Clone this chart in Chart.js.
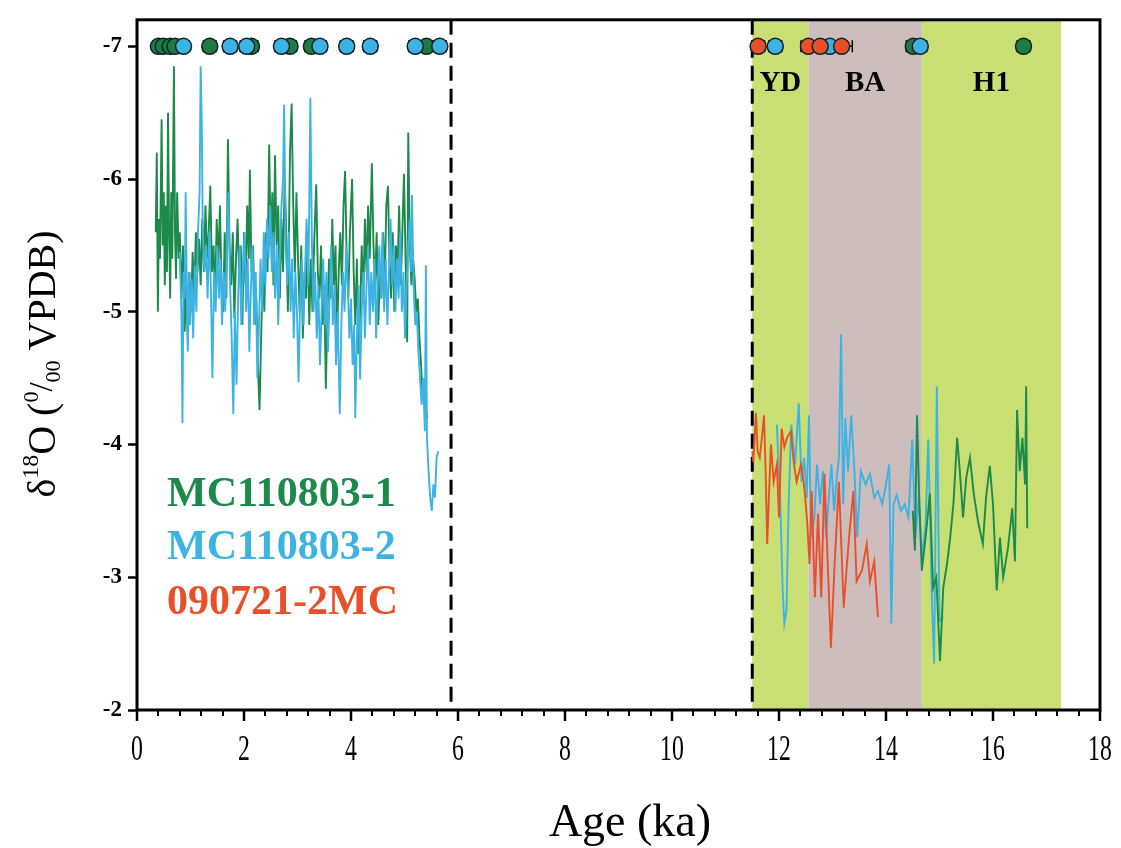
<!DOCTYPE html>
<html>
<head>
<meta charset="utf-8">
<title>d18O records</title>
<script src="https://cdn.jsdelivr.net/npm/chart.js@4.4.0/dist/chart.umd.min.js"></script>
<style>
  html, body { margin: 0; padding: 0; background: #fff; }
  canvas { display: block; }
</style>
</head>
<body>
<canvas id="d18oChart" width="1121" height="848"></canvas>
<script>
// MC110803-1, Holocene part
const mc1HoloAge = [0.35,0.37,0.39,0.41,0.43,0.46,0.48,0.50,0.52,0.54,0.56,0.58,0.60,0.62,0.64,0.66,0.69,0.71,0.73,0.75,0.78,0.80,0.83,0.86,0.89,0.92,0.95,0.98,1.01,1.04,1.07,1.10,1.13,1.16,1.19,1.22,1.25,1.28,1.31,1.34,1.37,1.40,1.43,1.46,1.49,1.52,1.55,1.58,1.61,1.64,1.67,1.70,1.73,1.76,1.79,1.82,1.85,1.88,1.91,1.94,1.97,2.00,2.03,2.06,2.09,2.11,2.14,2.17,2.20,2.23,2.26,2.29,2.32,2.35,2.38,2.41,2.44,2.47,2.50,2.53,2.55,2.58,2.61,2.64,2.67,2.70,2.73,2.76,2.79,2.82,2.86,2.89,2.92,2.95,2.98,3.01,3.04,3.07,3.10,3.13,3.16,3.19,3.22,3.25,3.28,3.31,3.35,3.38,3.41,3.44,3.47,3.50,3.53,3.56,3.59,3.62,3.65,3.68,3.71,3.74,3.77,3.80,3.83,3.86,3.89,3.92,3.95,3.98,4.02,4.05,4.08,4.11,4.14,4.17,4.20,4.23,4.26,4.29,4.32,4.35,4.39,4.42,4.45,4.48,4.51,4.54,4.57,4.60,4.63,4.66,4.69,4.72,4.75,4.78,4.81,4.84,4.87,4.90,4.93,4.96,4.99,5.02,5.05,5.07,5.10,5.13,5.16,5.19,5.22,5.25,5.28,5.31,5.34,5.37,5.40,5.43];
const mc1HoloD18O = [-5.6,-6.2,-5.0,-5.7,-5.4,-6.45,-5.5,-5.9,-5.2,-5.8,-5.3,-6.5,-5.6,-5.1,-5.9,-5.4,-6.85,-5.6,-5.25,-5.9,-5.4,-5.6,-5.1,-5.5,-4.85,-5.2,-4.75,-5.3,-5.0,-5.45,-5.1,-5.6,-5.3,-5.55,-5.2,-5.7,-5.3,-5.8,-5.4,-5.6,-5.95,-5.3,-5.5,-5.1,-5.7,-5.35,-5.8,-5.2,-5.0,-5.6,-5.1,-6.3,-5.5,-5.2,-5.6,-4.95,-5.4,-5.7,-5.25,-5.5,-4.9,-5.6,-5.2,-5.8,-5.4,-6.07,-5.3,-5.5,-4.9,-5.1,-4.6,-4.26,-4.8,-5.3,-5.0,-5.6,-5.3,-6.26,-5.5,-5.9,-5.2,-6.18,-5.5,-5.8,-5.1,-5.7,-5.3,-6.0,-5.6,-5.0,-6.2,-6.57,-5.8,-5.3,-5.9,-5.4,-5.0,-5.5,-4.8,-5.3,-5.1,-5.6,-4.9,-5.4,-5.0,-5.5,-5.96,-5.3,-5.1,-5.5,-4.9,-5.2,-4.42,-5.0,-5.4,-5.1,-5.7,-5.2,-5.5,-4.8,-5.3,-5.6,-5.2,-5.8,-6.06,-5.4,-5.1,-5.6,-6.0,-5.3,-4.9,-5.4,-4.68,-5.0,-5.5,-5.1,-5.7,-5.3,-5.8,-5.4,-6.12,-5.5,-5.2,-5.6,-4.9,-5.3,-5.1,-5.6,-5.2,-5.8,-5.95,-5.4,-5.1,-5.6,-5.0,-5.5,-5.3,-5.8,-5.2,-5.6,-6.04,-5.4,-4.77,-6.35,-5.5,-5.2,-5.4,-5.25,-5.0,-5.1,-4.8,-4.6,-4.35,-4.5,-4.25,-4.2];

// MC110803-2, Holocene part
const mc2HoloAge = [0.80,0.83,0.85,0.87,0.89,0.91,0.93,0.95,0.97,0.99,1.02,1.05,1.08,1.11,1.14,1.17,1.19,1.21,1.23,1.26,1.29,1.32,1.35,1.38,1.41,1.44,1.47,1.50,1.53,1.56,1.59,1.62,1.65,1.68,1.71,1.74,1.77,1.80,1.83,1.86,1.89,1.92,1.95,1.98,2.01,2.04,2.07,2.10,2.13,2.16,2.19,2.22,2.25,2.28,2.31,2.34,2.37,2.40,2.43,2.46,2.49,2.52,2.55,2.58,2.61,2.64,2.67,2.70,2.73,2.75,2.78,2.81,2.84,2.87,2.90,2.93,2.96,2.99,3.02,3.05,3.08,3.11,3.14,3.17,3.20,3.22,3.24,3.27,3.30,3.33,3.36,3.39,3.42,3.45,3.48,3.51,3.54,3.57,3.60,3.63,3.66,3.69,3.72,3.75,3.79,3.82,3.85,3.88,3.91,3.94,3.97,4.00,4.03,4.06,4.08,4.11,4.14,4.17,4.20,4.23,4.26,4.29,4.32,4.35,4.38,4.41,4.44,4.47,4.50,4.53,4.56,4.59,4.62,4.65,4.68,4.71,4.74,4.77,4.80,4.83,4.86,4.89,4.92,4.95,4.98,5.01,5.04,5.07,5.10,5.12,5.14,5.17,5.20,5.23,5.26,5.29,5.32,5.35,5.38,5.40,5.42,5.45,5.48,5.51,5.54,5.57,5.60,5.63];
const mc2HoloD18O = [-5.45,-5.0,-4.16,-5.3,-5.1,-5.9,-5.2,-4.7,-5.3,-4.9,-5.25,-4.8,-5.35,-5.0,-5.6,-5.9,-6.85,-6.45,-5.6,-5.3,-5.5,-5.1,-5.6,-5.2,-4.5,-5.3,-5.0,-5.5,-5.1,-5.4,-4.9,-5.3,-5.0,-5.5,-5.9,-5.2,-4.8,-4.23,-5.0,-4.45,-5.1,-5.5,-4.9,-5.3,-5.6,-5.0,-5.4,-4.7,-5.2,-5.5,-4.9,-5.3,-4.5,-4.9,-5.4,-5.0,-5.6,-5.2,-5.7,-5.4,-5.8,-5.3,-5.6,-5.1,-5.5,-4.9,-5.4,-5.8,-6.0,-6.56,-5.5,-5.2,-5.6,-5.0,-5.4,-4.8,-5.3,-5.0,-4.47,-5.1,-5.4,-4.9,-5.3,-5.7,-5.2,-5.8,-6.61,-5.5,-5.0,-5.3,-4.8,-5.2,-4.6,-5.0,-5.4,-4.9,-5.3,-4.7,-5.1,-5.5,-4.9,-5.2,-4.6,-5.0,-4.23,-4.9,-5.3,-5.0,-5.5,-5.2,-4.8,-5.1,-4.6,-4.9,-4.2,-4.8,-5.2,-4.49,-5.0,-5.3,-4.8,-5.2,-5.5,-4.9,-5.3,-5.0,-5.4,-4.8,-5.2,-5.5,-5.1,-5.6,-5.0,-5.4,-4.9,-5.3,-5.7,-5.2,-5.5,-5.0,-5.4,-5.1,-5.6,-5.0,-5.3,-4.8,-5.2,-5.5,-5.7,-5.3,-5.88,-5.2,-4.9,-5.0,-4.7,-4.5,-4.3,-4.5,-4.1,-5.35,-4.05,-3.8,-3.6,-3.5,-3.7,-3.6,-3.9,-3.95];

// MC110803-2, deglacial part
const mc2DeglAge = [11.96,12.02,12.07,12.10,12.14,12.18,12.23,12.30,12.37,12.42,12.47,12.52,12.56,12.60,12.66,12.71,12.77,12.82,12.88,12.93,12.98,13.03,13.08,13.12,13.16,13.20,13.24,13.29,13.35,13.41,13.46,13.53,13.62,13.70,13.78,13.85,13.93,14.00,14.06,14.10,14.14,14.20,14.28,14.35,14.42,14.49,14.55,14.61,14.67,14.74,14.79,14.86,14.90,14.95,15.00,15.07];
const mc2DeglD18O = [-4.15,-3.6,-2.9,-2.65,-2.75,-3.55,-4.15,-3.85,-4.31,-3.72,-3.9,-3.6,-4.22,-3.3,-3.45,-3.85,-3.55,-3.8,-3.3,-3.6,-3.85,-3.5,-3.75,-3.9,-4.83,-3.55,-4.2,-3.8,-4.22,-3.8,-3.3,-3.8,-3.7,-3.78,-3.6,-3.65,-3.55,-3.7,-3.85,-2.65,-3.55,-3.62,-3.5,-3.55,-3.45,-4.04,-3.3,-3.6,-3.15,-3.4,-4.04,-2.8,-2.35,-4.44,-2.67,-2.7];

// MC110803-1, deglacial part
const mc1DeglAge = [14.50,14.54,14.58,14.62,14.67,14.74,14.82,14.88,14.94,15.01,15.07,15.14,15.20,15.26,15.33,15.38,15.44,15.50,15.57,15.64,15.72,15.81,15.87,15.94,16.00,16.07,16.13,16.19,16.28,16.36,16.41,16.45,16.50,16.55,16.60,16.62,16.64];
const mc1DeglD18O = [-3.5,-3.2,-4.22,-3.6,-3.05,-3.3,-3.63,-2.92,-3.0,-2.37,-2.92,-3.1,-3.3,-3.55,-4.05,-3.8,-3.45,-3.75,-3.9,-3.63,-3.42,-3.25,-3.6,-3.84,-3.55,-2.9,-3.3,-3.0,-3.22,-3.52,-3.12,-4.26,-3.8,-4.05,-3.7,-4.44,-3.37];

// 090721-2MC
const mcRedAge = [11.50,11.52,11.57,11.60,11.64,11.68,11.72,11.75,11.78,11.82,11.85,11.90,11.96,12.00,12.05,12.10,12.15,12.22,12.28,12.33,12.41,12.45,12.49,12.53,12.57,12.61,12.67,12.73,12.79,12.85,12.90,12.97,13.04,13.12,13.21,13.27,13.32,13.39,13.45,13.55,13.64,13.70,13.78,13.85];
const mcRedD18O = [-3.95,-3.87,-4.24,-3.95,-3.9,-4.05,-4.22,-3.8,-3.25,-3.7,-4.0,-3.72,-3.85,-3.45,-4.12,-3.98,-4.05,-4.1,-3.85,-3.72,-3.85,-3.75,-3.6,-3.4,-3.1,-3.65,-2.85,-3.48,-2.85,-3.78,-3.22,-2.47,-3.1,-3.72,-2.77,-3.1,-3.35,-3.65,-2.97,-3.05,-3.25,-2.97,-3.12,-2.7];

// age control points (plotted along the top at -7) and their errors
const mc1DateAge = [0.40,0.49,0.62,0.71,1.36,2.14,2.86,3.26,5.41,14.51,16.57];
const mc1DateErr = [0.10,0.10,0.10,0.10,0.12,0.12,0.12,0.12,0.12,0.13,0.12];
const mc2DateAge = [0.87,1.74,2.05,2.70,3.42,3.92,4.36,5.20,5.66,11.93,12.95,14.64];
const mc2DateErr = [0.10,0.12,0.12,0.12,0.12,0.12,0.12,0.12,0.12,0.12,0.12,0.12];
const redDateAge = [11.61,12.55,12.77,13.17];
const redDateErr = [0.12,0.14,0.14,0.20];
const dateLevel = -7;

// climate intervals
const bandNames = ['YD', 'BA', 'H1'];
const bandStart = [11.5, 12.55, 14.67];
const bandEnd = [12.55, 14.67, 17.27];
const dashedAges = [5.87, 11.5];

const xTickValues = [0, 2, 4, 6, 8, 10, 12, 14, 16, 18];
const yTickValues = [-7, -6, -5, -4, -3, -2];
const legendNames = ['MC110803-1', 'MC110803-2', '090721-2MC'];

const serif = '"Liberation Serif", "Times New Roman", serif';
const green = '#1c8a4a';
const blue = '#3db3e3';
const red = '#e8502a';
const bandColors = ['#c9de73', '#cdbdbd', '#c9de73'];

function pairs(ages, vals) {
  return ages.map((a, i) => ({ x: a, y: vals[i] }));
}

function lineSet(ages, vals, color, order) {
  return {
    data: pairs(ages, vals),
    borderColor: color,
    borderWidth: 1.9,
    pointRadius: 0,
    fill: false,
    tension: 0,
    order: order,
  };
}

function dateSet(ages, color, order) {
  return {
    data: ages.map((a) => ({ x: a, y: dateLevel })),
    showLine: false,
    pointRadius: 8,
    pointBackgroundColor: color,
    pointBorderColor: '#15202a',
    pointBorderWidth: 1.5,
    order: order,
  };
}

const errorBars = [
  { ages: mc1DateAge, errs: mc1DateErr },
  { ages: mc2DateAge, errs: mc2DateErr },
  { ages: redDateAge, errs: redDateErr },
];

const decorPlugin = {
  id: 'decor',
  beforeDraw(chart) {
    const ctx = chart.ctx;
    ctx.save();
    ctx.fillStyle = '#fff';
    ctx.fillRect(0, 0, chart.width, chart.height);
    ctx.restore();
  },
  beforeDatasetsDraw(chart) {
    const { ctx, chartArea: a, scales } = chart;
    const x = scales.x, y = scales.y;
    ctx.save();
    // shaded intervals
    bandNames.forEach((name, i) => {
      const x0 = x.getPixelForValue(bandStart[i]);
      const x1 = x.getPixelForValue(bandEnd[i]);
      ctx.fillStyle = bandColors[i];
      ctx.fillRect(x0, a.top, x1 - x0, a.bottom - a.top);
    });
    // dashed boundaries
    ctx.strokeStyle = '#000';
    ctx.lineWidth = 3;
    ctx.setLineDash([15, 8]);
    dashedAges.forEach((age) => {
      const px = x.getPixelForValue(age);
      ctx.beginPath();
      ctx.moveTo(px, a.top);
      ctx.lineTo(px, a.bottom);
      ctx.stroke();
    });
    ctx.setLineDash([]);
    // error bars of the dates
    ctx.lineWidth = 1.5;
    const py = y.getPixelForValue(dateLevel);
    errorBars.forEach((set) => {
      set.ages.forEach((age, i) => {
        const x0 = x.getPixelForValue(age - set.errs[i]);
        const x1 = x.getPixelForValue(age + set.errs[i]);
        ctx.beginPath();
        ctx.moveTo(x0, py);
        ctx.lineTo(x1, py);
        ctx.moveTo(x0, py - 6);
        ctx.lineTo(x0, py + 6);
        ctx.moveTo(x1, py - 6);
        ctx.lineTo(x1, py + 6);
        ctx.stroke();
      });
    });
    ctx.restore();
  },
  afterDatasetsDraw(chart) {
    const { ctx, chartArea: a, scales } = chart;
    const x = scales.x;
    ctx.save();
    // frame
    ctx.strokeStyle = '#000';
    ctx.lineWidth = 3;
    ctx.strokeRect(a.left, a.top, a.right - a.left, a.bottom - a.top);

    // x ticks, major and minor
    ctx.lineWidth = 2;
    for (let v = 0; v <= 18.001; v += 0.4) {
      const px = Math.round(x.getPixelForValue(v));
      ctx.beginPath();
      ctx.moveTo(px, a.bottom);
      ctx.lineTo(px, a.bottom + 6);
      ctx.stroke();
    }
    ctx.lineWidth = 2.5;
    xTickValues.forEach((v) => {
      const px = x.getPixelForValue(v);
      ctx.beginPath();
      ctx.moveTo(px, a.bottom);
      ctx.lineTo(px, a.bottom + 11);
      ctx.stroke();
    });

    // x tick labels (narrow serif)
    ctx.fillStyle = '#000';
    ctx.textAlign = 'center';
    ctx.textBaseline = 'middle';
    ctx.font = '36px ' + serif;
    xTickValues.forEach((v) => {
      const px = x.getPixelForValue(v);
      ctx.save();
      ctx.translate(px, 751);
      ctx.scale(0.66, 1);
      ctx.fillText(String(v), 0, 0);
      ctx.restore();
    });

    // x title
    ctx.font = '46px ' + serif;
    ctx.fillText('Age (ka)', 630, 824);

    // interval labels
    ctx.font = 'bold 29px ' + serif;
    bandNames.forEach((name, i) => {
      const cx = x.getPixelForValue((bandStart[i] + bandEnd[i]) / 2);
      ctx.fillText(name, cx, 84);
    });

    // series names
    ctx.textAlign = 'left';
    ctx.font = 'bold 42px ' + serif;
    const nameColors = [green, blue, red];
    const nameY = [495, 548, 603];
    legendNames.forEach((name, i) => {
      ctx.fillStyle = nameColors[i];
      ctx.fillText(name, 167, nameY[i]);
    });

    // y title with super/subscripts
    const parts = [
      { t: '\u03b4', size: 40, dy: 0 },
      { t: '18', size: 24, dy: -17 },
      { t: 'O (', size: 40, dy: 0 },
      { t: '0', size: 22, dy: -17 },
      { t: '/', size: 33, dy: -3 },
      { t: '00', size: 22, dy: 5 },
      { t: ' VPDB)', size: 40, dy: 0 },
    ];
    let total = 0;
    parts.forEach((p) => {
      ctx.font = p.size + 'px ' + serif;
      p.w = ctx.measureText(p.t).width;
      total += p.w;
    });
    ctx.translate(41, 364);
    ctx.rotate(-Math.PI / 2);
    ctx.fillStyle = '#000';
    ctx.textBaseline = 'alphabetic';
    let cx = -total / 2;
    parts.forEach((p) => {
      ctx.font = p.size + 'px ' + serif;
      ctx.fillText(p.t, cx, 14 + p.dy);
      cx += p.w;
    });
    ctx.restore();
  },
};

const ctx = document.getElementById('d18oChart').getContext('2d');
const chart = new Chart(ctx, {
  type: 'line',
  data: {
    datasets: [
      dateSet(redDateAge, red, 1),
      dateSet(mc2DateAge, blue, 2),
      dateSet(mc1DateAge, '#1e7c42', 3),
      lineSet(mcRedAge, mcRedD18O, red, 4),
      lineSet(mc1DeglAge, mc1DeglD18O, green, 5),
      lineSet(mc2DeglAge, mc2DeglD18O, blue, 6),
      lineSet(mc2HoloAge, mc2HoloD18O, blue, 7),
      lineSet(mc1HoloAge, mc1HoloD18O, green, 8),
    ],
  },
  options: {
    responsive: false,
    animation: false,
    layout: { padding: { top: 17, right: 21, left: 0, bottom: 0 } },
    plugins: { legend: { display: false }, tooltip: { enabled: false } },
    scales: {
      x: {
        type: 'linear',
        min: 0,
        max: 18,
        grid: { display: false },
        border: { display: false },
        ticks: { display: false },
        afterFit: (scale) => { scale.height = 138; },
      },
      y: {
        type: 'linear',
        reverse: true,
        min: -7.2,
        max: -2,
        afterBuildTicks: (scale) => {
          scale.ticks = yTickValues.map((v) => ({ value: v }));
        },
        afterFit: (scale) => { scale.width = 137; },
        grid: {
          drawOnChartArea: false,
          tickLength: 9,
          tickWidth: 2.5,
          tickColor: '#000',
        },
        border: { display: false },
        ticks: {
          color: '#000',
          padding: 6,
          font: { family: serif, size: 23, weight: 'bold' },
        },
      },
    },
  },
  plugins: [decorPlugin],
});
</script>
</body>
</html>
